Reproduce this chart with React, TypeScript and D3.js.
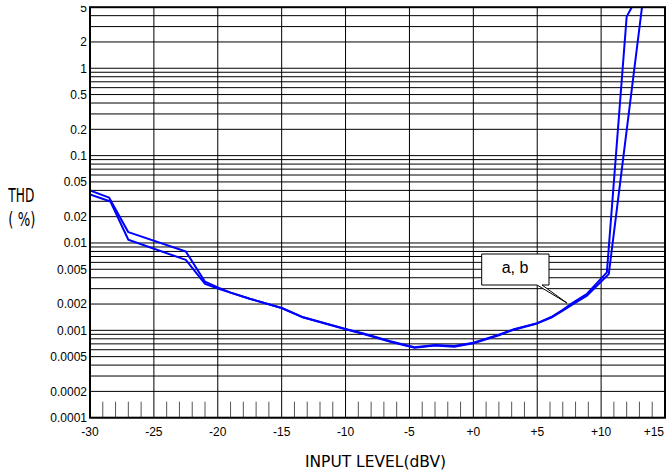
import React from "react";
import * as d3 from "d3";

// THD vs input level, two channels (a, b)
const levelA = [-30, -28.5, -27, -22.5, -21, -20, -19, -17.5, -15, -13.3, -10, -8.6, -6.5, -4.6, -3, -1.5, 0, 2, 3.1, 5, 6.1, 7, 7.8, 8.9, 10.45, 12.0, 12.4];
const thdA = [0.040, 0.033, 0.0133, 0.0080, 0.0036, 0.0031, 0.0027, 0.0023, 0.0018, 0.00141, 0.00104, 0.00092, 0.00075, 0.00064, 0.00068, 0.00066, 0.00072, 0.00089, 0.00102, 0.00121, 0.00142, 0.00172, 0.00208, 0.00262, 0.0046, 3.9, 5.0];

const levelB = [-30, -28.4, -27, -22.5, -21, -20, -19, -17.5, -15, -13.3, -10, -8.6, -6.5, -4.6, -3, -1.5, 0, 2, 3.1, 5, 6.1, 7, 7.8, 8.9, 10.6, 13.2];
const thdB = [0.036, 0.0298, 0.0109, 0.0064, 0.0034, 0.0030, 0.0027, 0.0023, 0.0018, 0.00140, 0.00103, 0.00091, 0.00074, 0.00063, 0.00067, 0.00065, 0.00071, 0.00088, 0.00101, 0.00120, 0.00140, 0.00168, 0.00200, 0.00250, 0.0044, 5.0];

const xTicks = [-30, -25, -20, -15, -10, -5, 0, 5, 10, 15];
const xTickLabels = ["-30", "-25", "-20", "-15", "-10", "-5", "+0", "+5", "+10", "+15"];
const yTicks = [5, 2, 1, 0.5, 0.2, 0.1, 0.05, 0.02, 0.01, 0.005, 0.002, 0.001, 0.0005, 0.0002, 0.0001];
const yTickLabels = ["5", "2", "1", "0.5", "0.2", "0.1", "0.05", "0.02", "0.01", "0.005", "0.002", "0.001", "0.0005", "0.0002", "0.0001"];

const W = 666;
const H = 476;
const left = 90;
const right = 665;
const top = 7.2;
const bottom = 417.7;

export default function App() {
  const x = d3.scaleLinear().domain([-30, 15]).range([left, right]);
  const y = d3.scaleLog().domain([0.0001, 5]).range([bottom, top]);

  // log grid: every k * 10^e inside the domain
  const hGrid: number[] = [];
  for (let e = -4; e <= 0; e++) {
    for (let k = 1; k <= 9; k++) {
      const v = k * Math.pow(10, e);
      if (v > 0.0001 * 0.999 && v < 5 * 0.999) hGrid.push(v);
    }
  }
  const minor = d3.range(-29, 15).filter((d) => d % 5 !== 0);

  const line = d3
    .line<[number, number]>()
    .x((d) => x(d[0]))
    .y((d) => y(d[1]));
  const dataA = levelA.map((l, i) => [l, thdA[i]] as [number, number]);
  const dataB = levelB.map((l, i) => [l, thdB[i]] as [number, number]);

  const font = "'Liberation Sans', Arial, sans-serif";
  const narrow = "'Liberation Sans Narrow', 'Arial Narrow', 'DejaVu Sans Condensed', sans-serif";

  // callout geometry
  const bx0 = 481.7, bx1 = 549, by0 = 254, by1 = 285;
  const tipX = 567, tipY = 303;

  return (
    <svg
      width={W}
      height={H}
      style={{ position: "absolute", left: 0, top: 0, background: "#fff" }}
    >
      <defs>
        <clipPath id="plotClip">
          <rect x={left} y={top} width={right - left} height={bottom - top} />
        </clipPath>
        <clipPath id="pageClip">
          <rect x={0} y={5.7} width={W} height={H} />
        </clipPath>
      </defs>
      <g clipPath="url(#pageClip)">
        <rect x={0} y={0} width={W} height={H} fill="#fff" />
        {/* horizontal log grid */}
        {hGrid.map((v, i) => (
          <line key={"h" + i} x1={left} x2={right} y1={y(v)} y2={y(v)} stroke="#000" strokeWidth={1} />
        ))}
        {/* vertical grid every 5 dB */}
        {xTicks.map((v) => (
          <line key={"v" + v} x1={x(v)} x2={x(v)} y1={top} y2={bottom} stroke="#000" strokeWidth={1} />
        ))}
        {/* 1 dB ticks along the bottom */}
        {minor.map((v) => (
          <line key={"m" + v} x1={x(v)} x2={x(v)} y1={bottom - 16} y2={bottom} stroke="#555" strokeWidth={1} />
        ))}
        {/* curves */}
        <g clipPath="url(#plotClip)">
          <path d={line(dataA) || ""} fill="none" stroke="#0000ff" strokeWidth={2} strokeLinejoin="round" />
          <path d={line(dataB) || ""} fill="none" stroke="#0000ff" strokeWidth={2} strokeLinejoin="round" />
        </g>
        {/* frame */}
        <rect x={left} y={top} width={right - left} height={bottom - top} fill="none" stroke="#000" strokeWidth={2} />
        {/* y tick labels */}
        {yTicks.map((v, i) => (
          <text key={"yl" + i} x={87} y={y(v) + 4.3} textAnchor="end" fontFamily={font} fontSize={12} fill="#000">
            {yTickLabels[i]}
          </text>
        ))}
        {/* x tick labels */}
        {xTicks.map((v, i) => (
          <text
            key={"xl" + v}
            x={i === xTicks.length - 1 ? 664 : x(v)}
            y={436}
            textAnchor={i === xTicks.length - 1 ? "end" : "middle"}
            fontFamily={font}
            fontSize={12}
            fill="#000"
          >
            {xTickLabels[i]}
          </text>
        ))}
        {/* axis titles */}
        <text x={305} y={467} fontFamily={narrow} fontSize={16.5} textLength={141} lengthAdjust="spacingAndGlyphs" fill="#000">
          INPUT LEVEL(dBV)
        </text>
        <text x={8.3} y={201.7} fontFamily={narrow} fontSize={19} textLength={26} lengthAdjust="spacingAndGlyphs" fill="#000">
          THD
        </text>
        <text x={8.3} y={226} fontFamily={narrow} fontSize={19} textLength={27} lengthAdjust="spacingAndGlyphs" fill="#000">
          ( %)
        </text>
        {/* callout */}
        <path
          d={`M${bx0},${by0} L${bx1},${by0} L${bx1},${by1} L542,${by1} L${tipX},${tipY} L537,${by1} L${bx0},${by1} Z`}
          fill="#fff"
          stroke="#000"
          strokeWidth={1}
        />
        <text x={515} y={273} textAnchor="middle" fontFamily={font} fontSize={16} fill="#000">
          a, b
        </text>
      </g>
    </svg>
  );
}
